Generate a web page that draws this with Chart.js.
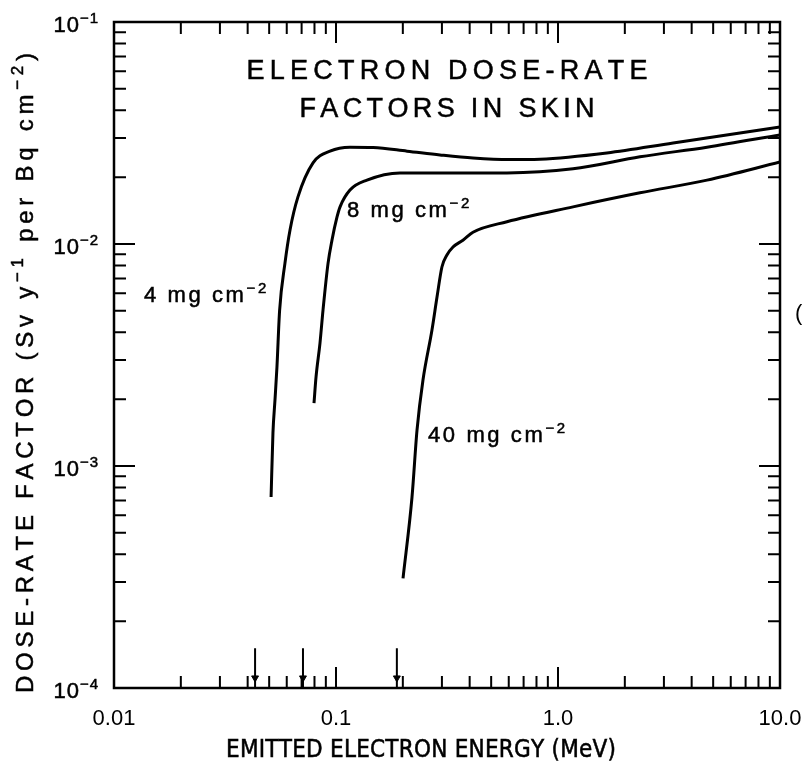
<!DOCTYPE html>
<html>
<head>
<meta charset="utf-8">
<script src="https://cdn.jsdelivr.net/npm/chart.js@4.4.0/dist/chart.umd.min.js"></script>
<style>
  html, body { margin: 0; padding: 0; background: #fff; }
</style>
</head>
<body>
<canvas id="chart" width="802" height="762"></canvas>
<script>
// curve data: energy (MeV) and dose-rate factor
const depth4Energy = [0.0510, 0.0520, 0.0531, 0.0542, 0.0557, 0.0589, 0.0621, 0.0674, 0.0788, 0.094, 0.1156, 0.147, 0.209, 0.294, 0.414, 0.60, 0.83, 1.66, 3.3, 6.6, 10];
const depth4Dose = [7.25e-4, 1.41e-3, 1.98e-3, 2.79e-3, 5.0e-3, 8.2e-3, 1.16e-2, 1.63e-2, 2.32e-2, 2.62e-2, 2.73e-2, 2.72e-2, 2.62e-2, 2.52e-2, 2.44e-2, 2.40e-2, 2.41e-2, 2.57e-2, 2.85e-2, 3.16e-2, 3.37e-2];

const depth8Energy = [0.0796, 0.0813, 0.0847, 0.0874, 0.0921, 0.0959, 0.101, 0.1043, 0.1156, 0.1379, 0.1942, 0.351, 0.589, 1.169, 2.34, 4.69, 10];
const depth8Dose = [1.92e-3, 2.52e-3, 3.58e-3, 5.04e-3, 8.2e-3, 1.04e-2, 1.32e-2, 1.47e-2, 1.75e-2, 1.94e-2, 2.09e-2, 2.09e-2, 2.09e-2, 2.18e-2, 2.47e-2, 2.73e-2, 3.10e-2];

const depth40Energy = [0.2004, 0.220, 0.2317, 0.2465, 0.2706, 0.2851, 0.300, 0.316, 0.3365, 0.373, 0.414, 0.589, 1.169, 2.34, 4.69, 10];
const depth40Dose = [3.12e-4, 7.25e-4, 1.45e-3, 2.44e-3, 4.10e-3, 5.77e-3, 7.88e-3, 8.92e-3, 9.69e-3, 1.04e-2, 1.13e-2, 1.26e-2, 1.47e-2, 1.70e-2, 1.94e-2, 2.34e-2];

const curveLabels = ["4 mg cm", "8 mg cm", "40 mg cm"];

// arrow marks on the energy axis
const arrowEnergies = [0.0432, 0.0710, 0.188];
const arrowTop = 1.51e-4;
const arrowHead = 1.11e-4;

const xTickValues = [0.01, 0.1, 1, 10];
const xTickLabels = ["0.01", "0.1", "1.0", "10.0"];
const yTickValues = [1e-4, 1e-3, 1e-2, 1e-1];
const yTickExponents = ["\u22124", "\u22123", "\u22122", "\u22121"];

const FONT = "'Liberation Sans', Arial, Helvetica, sans-serif";
const NARROW = "'Liberation Sans Narrow', 'DejaVu Sans Condensed', 'Liberation Sans', sans-serif";

function pairs(xs, ys) {
  let out = [];
  for (let i = 0; i < xs.length; i++) {
    out.push({ x: xs[i], y: ys[i] });
  }
  return out;
}

function labelFor(value, values, labels) {
  for (let i = 0; i < values.length; i++) {
    if (Math.abs(Math.log10(value) - Math.log10(values[i])) < 1e-6) return labels[i];
  }
  return "";
}

// draws text char by char with extra spacing, superscripts raised
function spacedText(ctx, parts, x, y, size, spacing, align, fitWidth, family) {
  family = family || FONT;
  let items = [];
  let total = 0;
  parts.forEach(([txt, sup]) => {
    let fs = sup ? Math.round(size * 0.7) : size;
    ctx.font = `${fs}px ${family}`;
    for (const ch of txt) {
      let w = ctx.measureText(ch).width;
      items.push({ ch: ch, fs: fs, sup: sup, w: w });
      total += w;
    }
  });
  if (fitWidth) {
    spacing = (fitWidth - total) / (items.length - 1);
  }
  total += spacing * (items.length - 1);
  let cx = x;
  if (align === "center") cx = x - total / 2;
  if (align === "right") cx = x - total;
  ctx.textAlign = "left";
  ctx.textBaseline = "alphabetic";
  items.forEach(it => {
    ctx.font = `${it.fs}px ${family}`;
    let ty = it.sup ? y - size * 0.42 : y;
    ctx.fillText(it.ch, cx, ty);
    ctx.strokeText(it.ch, cx, ty);
    cx += it.w + spacing;
  });
}

const decorPlugin = {
  id: "decor",
  afterDatasetsDraw(chart) {
    const ctx = chart.ctx;
    const area = chart.chartArea;
    const xs = chart.scales.x;
    const ys = chart.scales.y;
    ctx.save();
    ctx.strokeStyle = "#000";
    ctx.fillStyle = "#000";

    // frame
    ctx.lineWidth = 2.5;
    ctx.strokeRect(area.left, area.top, area.right - area.left, area.bottom - area.top);

    // inward ticks on all four sides
    ctx.lineWidth = 2;
    ctx.beginPath();
    for (let e = -2; e <= 0; e++) {
      for (let m = 1; m <= 9; m++) {
        let v = m * Math.pow(10, e);
        let len = m === 1 ? 21 : 12;
        let px = xs.getPixelForValue(v);
        ctx.moveTo(px, area.bottom);
        ctx.lineTo(px, area.bottom - len);
        ctx.moveTo(px, area.top);
        ctx.lineTo(px, area.top + len);
      }
    }
    for (let e = -4; e <= -2; e++) {
      for (let m = 1; m <= 9; m++) {
        let v = m * Math.pow(10, e);
        let len = m === 1 ? 21 : 12;
        let py = ys.getPixelForValue(v);
        ctx.moveTo(area.left, py);
        ctx.lineTo(area.left + len, py);
        ctx.moveTo(area.right, py);
        ctx.lineTo(area.right - len, py);
      }
    }
    ctx.stroke();

    ctx.lineWidth = 0.5;

    // y tick labels with raised exponents
    yTickValues.forEach((v, i) => {
      let py = ys.getPixelForValue(v);
      spacedText(ctx, [["10", false], [yTickExponents[i], true]], area.left - 16, py + 10, 22, 1, "right");
    });

    // title inside the plot
    spacedText(ctx, [["ELECTRON DOSE-RATE", false]], 447, 79, 27, 0, "center", 401);
    spacedText(ctx, [["FACTORS IN SKIN", false]], 447, 117, 27, 0, "center", 295);

    // curve labels
    spacedText(ctx, [[curveLabels[0], false], ["\u22122", true]], 144, 302, 22, 2.6, "left");
    spacedText(ctx, [[curveLabels[1], false], ["\u22122", true]], 347, 217, 22, 2.6, "left");
    spacedText(ctx, [[curveLabels[2], false], ["\u22122", true]], 428, 442, 22, 2.6, "left");

    // axis titles
    spacedText(ctx, [["EMITTED ELECTRON ENERGY (MeV)", false]], 421, 757, 24, 0, "center", 390, NARROW);
    ctx.save();
    ctx.translate(33, 373);
    ctx.rotate(-Math.PI / 2);
    spacedText(ctx, [["DOSE-RATE FACTOR (Sv y", false], ["\u22121", true], [" per Bq cm", false], ["\u22122", true], [")", false]], 0, 0, 24, 0, "center", 640);
    ctx.restore();

    // cut-off mark at the right edge
    ctx.font = `22px ${FONT}`;
    ctx.fillText("(", 795, 320);
    ctx.restore();
  }
};

let datasets = [
  { label: "4 mg", data: pairs(depth4Energy, depth4Dose) },
  { label: "8 mg", data: pairs(depth8Energy, depth8Dose) },
  { label: "40 mg", data: pairs(depth40Energy, depth40Dose) }
].map(d => Object.assign(d, {
  borderColor: "#000",
  borderWidth: 3,
  pointRadius: 0,
  fill: false,
  cubicInterpolationMode: "monotone"
}));

arrowEnergies.forEach(e => {
  datasets.push({
    label: "arrow",
    data: [{ x: e, y: arrowTop }, { x: e, y: 1e-4 }],
    borderColor: "#000",
    borderWidth: 2,
    pointRadius: 0
  });
});
datasets.push({
  label: "arrow heads",
  data: arrowEnergies.map(e => ({ x: e, y: arrowHead })),
  showLine: false,
  pointStyle: "triangle",
  rotation: 180,
  pointRadius: 4,
  backgroundColor: "#000",
  borderColor: "#000"
});

new Chart(document.getElementById("chart"), {
  type: "line",
  data: { datasets: datasets },
  options: {
    responsive: false,
    animation: false,
    devicePixelRatio: 1,
    layout: { padding: 0 },
    plugins: { legend: { display: false }, tooltip: { enabled: false } },
    scales: {
      x: {
        type: "logarithmic",
        min: 0.01,
        max: 10,
        grid: { display: false, drawTicks: false },
        border: { display: false },
        afterFit: scale => {
          scale.height = 74;
          scale.paddingLeft = 0;
          scale.paddingRight = 22;
        },
        ticks: {
          autoSkip: false,
          maxRotation: 0,
          minRotation: 0,
          padding: 18,
          color: "#000",
          font: { family: FONT, size: 22 },
          callback: v => labelFor(v, xTickValues, xTickLabels)
        }
      },
      y: {
        type: "logarithmic",
        min: 1e-4,
        max: 1e-1,
        grid: { display: false, drawTicks: false },
        border: { display: false },
        afterFit: scale => {
          scale.width = 114;
          scale.paddingTop = 22;
          scale.paddingBottom = 0;
        },
        ticks: { display: false }
      }
    }
  },
  plugins: [decorPlugin]
});
</script>
</body>
</html>
